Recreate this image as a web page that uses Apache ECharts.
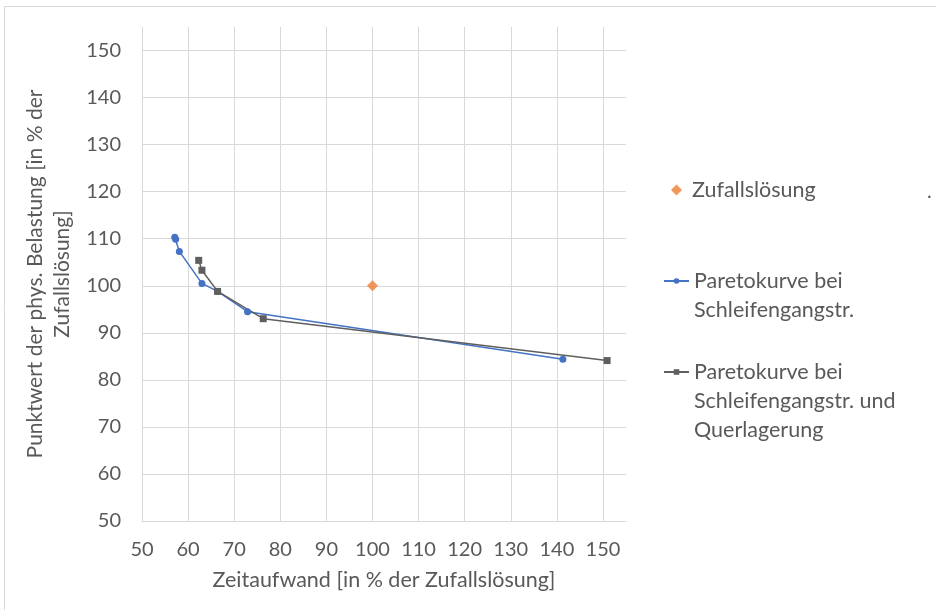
<!DOCTYPE html>
<html>
<head>
<meta charset="utf-8">
<script src="https://cdn.jsdelivr.net/npm/echarts@6/dist/echarts.min.js"></script>
<style>
html,body{margin:0;padding:0;background:#fff;}
#c{width:936px;height:610px;}
</style>
</head>
<body>
<div id="c"></div>
<script>
// ---- data ----
const seriesNames = ['Zufallslösung', 'Paretokurve bei\nSchleifengangstr.', 'Paretokurve bei\nSchleifengangstr. und\nQuerlagerung'];
const zufallX = [100];
const zufallY = [100];
const pareto1X = [57.1, 57.3, 58.1, 63.0, 66.4, 72.9, 141.3];
const pareto1Y = [110.3, 109.9, 107.3, 100.5, 98.8, 94.5, 84.4];
const pareto2X = [62.3, 63.0, 66.4, 76.3, 150.9];
const pareto2Y = [105.4, 103.3, 98.8, 93.0, 84.1];
const xTicks = [50, 60, 70, 80, 90, 100, 110, 120, 130, 140, 150];
const yTicks = [50, 60, 70, 80, 90, 100, 110, 120, 130, 140, 150];
const xTitle = 'Zeitaufwand [in % der Zufallslösung]';
const yTitle = 'Punktwert der phys. Belastung [in % der\nZufallslösung]';

const pairs = (xs, ys) => xs.map((x, i) => [x, ys[i]]);
const FONT = 'Lato';
const TXT = '#595959';
const GRID = '#d9d9d9';

const chart = echarts.init(document.getElementById('c'), null, {renderer: 'canvas'});
const tickFmt = (list) => (v) => (list.indexOf(v) >= 0 ? String(v) : '');

const LH = 29;
// one legend per entry; leading blank lines put the icon level with the first text line
function legendFor(name, icon, firstLineY, left, w, h, spacer) {
  const lines = name.split('\n').length;
  const total = 2 * lines - 1;
  return {
    data: [icon ? {name: name, icon: icon} : name],
    orient: 'vertical',
    left: left,
    top: firstLineY - total * LH / 2,
    padding: 0,
    itemWidth: w,
    itemHeight: h,
    selectedMode: false,
    formatter: (n) => '\n'.repeat(lines - 1) + (spacer ? '{g|}' : '') + n,
    textStyle: {color: TXT, fontFamily: FONT, fontSize: 21.5, lineHeight: LH,
      rich: {g: {width: spacer || 0}}}
  };
}

chart.setOption({
  animation: false,
  backgroundColor: '#fff',
  textStyle: {fontFamily: FONT},
  grid: {left: 142, top: 27, width: 484, height: 494, containLabel: false},
  xAxis: {
    type: 'value', min: 50, max: 155, interval: 10,
    name: xTitle, nameLocation: 'middle', nameGap: 48,
    nameTextStyle: {color: TXT, fontSize: 21.5, fontFamily: FONT},
    axisLine: {show: true, lineStyle: {color: GRID, width: 1}},
    axisTick: {show: false},
    axisLabel: {color: TXT, fontSize: 20, fontFamily: FONT, margin: 19, showMaxLabel: false, formatter: tickFmt(xTicks)},
    splitLine: {show: true, showMaxLine: false, lineStyle: {color: GRID, width: 1}}
  },
  yAxis: {
    type: 'value', min: 50, max: 155, interval: 10,
    name: yTitle, nameLocation: 'middle', nameGap: 48, nameRotate: 90,
    nameTextStyle: {color: TXT, fontSize: 21, fontFamily: FONT, lineHeight: 27, align: 'center'},
    axisLine: {show: false},
    axisTick: {show: false},
    axisLabel: {color: TXT, fontSize: 20, fontFamily: FONT, margin: 21, showMaxLabel: false, formatter: tickFmt(yTicks)},
    splitLine: {show: true, showMaxLine: false, lineStyle: {color: GRID, width: 1}}
  },
  legend: [
    legendFor(seriesNames[0], 'diamond', 190, 671, 11, 11, 5),
    legendFor(seriesNames[1], null, 281, 663, 25, 7, 0),
    legendFor(seriesNames[2], null, 372, 663, 25, 7, 0)
  ],
  graphic: [
    {type: 'rect', silent: true, z: -10, shape: {x: 4.5, y: 6.5, width: 960, height: 640},
     style: {fill: null, stroke: GRID, lineWidth: 1}},
    {type: 'text', left: 927, top: 182, silent: true,
     style: {text: '.', fill: TXT, font: '20px ' + FONT}}
  ],
  series: [
    {
      name: seriesNames[0], type: 'scatter', data: pairs(zufallX, zufallY),
      symbol: 'diamond', symbolSize: 11,
      itemStyle: {color: '#ED7D31'}
    },
    {
      name: seriesNames[1], type: 'line', data: pairs(pareto1X, pareto1Y),
      symbol: 'circle', symbolSize: 7, showSymbol: true,
      lineStyle: {color: '#4472C4', width: 1.5},
      itemStyle: {color: '#4472C4'}
    },
    {
      name: seriesNames[2], type: 'line', data: pairs(pareto2X, pareto2Y),
      symbol: 'rect', symbolSize: 7, showSymbol: true,
      lineStyle: {color: '#5f5f5f', width: 1.5},
      itemStyle: {color: '#5f5f5f'}
    }
  ]
});
</script>
</body>
</html>
